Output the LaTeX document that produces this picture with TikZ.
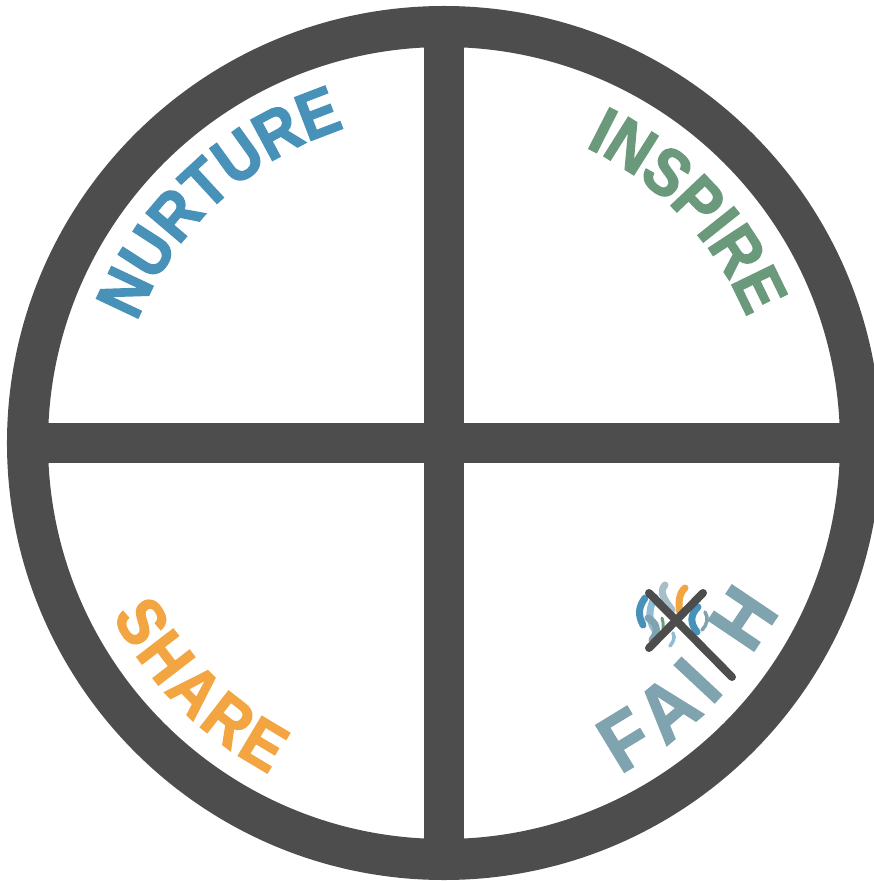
\documentclass[tikz,border=0pt]{standalone}
\usepackage{fontspec}
\setmainfont{Liberation Sans}
\newfontface\arcfont[FakeStretch=0.9, FakeBold=2]{Liberation Sans Bold}
\usepackage{tikz}
\usetikzlibrary{decorations.text}
\definecolor{ringgray}{RGB}{77, 77, 77}
\definecolor{nurtureblue}{RGB}{72, 145, 184}
\definecolor{inspiregreen}{RGB}{106, 154, 123}
\definecolor{shareorange}{RGB}{242, 165, 65}
\definecolor{faithteal}{RGB}{127, 163, 175}
\tikzset{
  wheelbar/.style={draw=ringgray, line width=0.39cm},
  crossbar/.style={draw=ringgray, line width=0.08cm, line cap=round},
  arcword/.style={decorate, decoration={text along path, text align=fit to path, text=#1}},
  wave/.style={line width=0.07cm, line cap=round}
}
\begin{document}
\begin{tikzpicture}[x=0.01cm, y=0.01cm]
  \useasboundingbox (-444, -438) rectangle (430, 443);
  \clip (-444, -438) rectangle (430, 443);

  % Wheel
  \draw[wheelbar, line width=0.41cm] (0, 0) circle (416.5);
  \draw[wheelbar] (0, 416) -- (0, -416);
  \draw[wheelbar] (-416, 0) -- (416, 0);

  % Words
  \path[arcword={|\fontsize{19}{19}\arcfont\color{nurtureblue}|NURTURE}]
    (158.5:330) arc[start angle=158.5, end angle=108.5, radius=330];
  \path[arcword={|\fontsize{19}{19}\arcfont\color{inspiregreen}|INSPIRE}]
    (64.5:328) arc[start angle=64.5, end angle=22.5, radius=328];
  \path[arcword={|\fontsize{19}{19}\arcfont\color{shareorange}|SHARE}]
    (207.5:374) arc[start angle=207.5, end angle=242.2, radius=374];
  \path[arcword={|\fontsize{22.7}{22.7}\arcfont\color{faithteal}|FAI}]
    (-62:375) arc[start angle=-62, end angle=-41.5, radius=375];
  \node[rotate=56, inner sep=0pt, text=faithteal, font=\fontsize{22.7}{22.7}\arcfont] (faithH) at (299, -175) {H};

  % Logo
  \draw[wave, nurtureblue] (201, -155) .. controls (194, -165) and (194, -172) .. (199, -182);
  \draw[wave, nurtureblue!60] (211, -154) .. controls (203, -168) and (205, -180) .. (213, -190);
  \draw[wave, faithteal!70] (221, -142) .. controls (214, -150) and (222, -158) .. (228, -167);
  \draw[wave, faithteal] (204, -175) .. controls (212, -180) and (216, -186) .. (208, -197);
  \draw[wave, inspiregreen, line width=0.03cm] (218, -175) .. controls (220, -181) and (219, -186) .. (219, -192);
  \draw[wave, shareorange] (241, -145) .. controls (235, -150) and (234, -160) .. (236, -170);
  \draw[wave, nurtureblue] (254, -164) .. controls (246, -172) and (246, -180) .. (253, -189);
  \draw[wave, faithteal, line width=0.035cm] (261, -169) .. controls (265, -175) and (263, -182) .. (258, -187);
  \draw[wave, nurtureblue!60, line width=0.035cm] (229, -190) .. controls (232, -196) and (228, -200) .. (226, -203);

  % Cross
  \draw[crossbar] (205, -150) -- (288, -234);
  \draw[crossbar] (259, -150) -- (205, -205);
\end{tikzpicture}
\end{document}
